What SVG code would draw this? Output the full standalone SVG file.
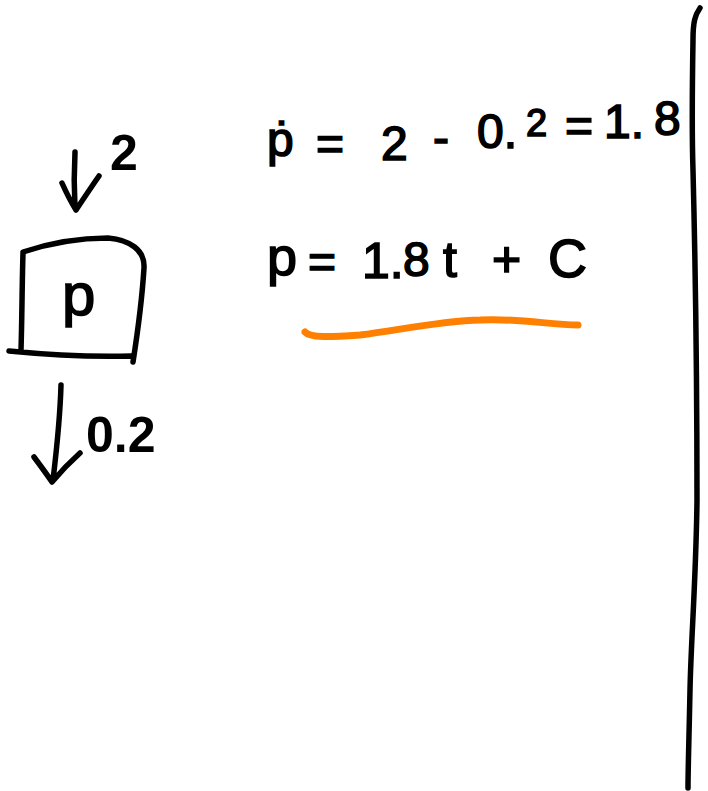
<svg xmlns="http://www.w3.org/2000/svg" width="708" height="791" viewBox="0 0 708 791">
  <style>
    .ink { fill: none; stroke: #000; stroke-width: 5.5; stroke-linecap: round; stroke-linejoin: round; }
    .hl { fill: none; stroke: #ff8000; stroke-width: 7; stroke-linecap: round; stroke-linejoin: round; }
    .t { font-family: "Liberation Sans", "DejaVu Sans", sans-serif; fill: #000; }
    .eq { font-size: 48px; stroke: #000; stroke-width: 1.6px; }
    .lbl { font-weight: bold; }
  </style>
  <rect width="708" height="791" fill="#fff"/>

  <!-- stock node P -->
  <g id="node-p">
    <path class="ink" d="M23 253 C22 285 22 320 21 350 M23 252 C50 243 80 238 108 238 C130 240 145 250 144 268 C142 300 138 330 133 362 M9 351 C50 355 95 357 131 356"/>
    <text class="t" x="62" y="315" font-size="60" stroke="#000" stroke-width="1.6">p</text>
  </g>

  <!-- inflow and outflow arrows -->
  <g id="connectors">
    <path class="ink" d="M75 152 C74 170 74 190 75 208 M62 183 C66 192 71 202 76 210 C84 198 92 186 99 176"/>
    <path class="ink" d="M61 385 C60 420 56 455 53 480 M34 457 C40 465 46 473 52 482 C62 470 70 462 80 453"/>
  </g>

  <g id="flow-labels">
    <text class="t lbl" x="110" y="170" font-size="50">2</text>
    <text class="t lbl" x="86" y="452" font-size="50">0.2</text>
  </g>

  <!-- rate equation -->
  <g id="eq-rate" class="t eq">
    <text x="267" y="156">ṗ</text>
    <text x="316" y="160">=</text>
    <text x="381" y="160">2</text>
    <text x="433" y="154">-</text>
    <text x="477" y="148">0.</text>
    <text x="526" y="136" font-size="38">2</text>
    <text x="565" y="142">=</text>
    <text x="604" y="138">1.</text>
    <text x="654" y="135">8</text>
  </g>

  <!-- solution equation -->
  <g id="eq-solution" class="t eq">
    <text x="267" y="275" font-size="54">p</text>
    <text x="308" y="278">=</text>
    <text x="362" y="278" font-size="50">1.</text>
    <text x="403" y="276" font-size="48">8</text>
    <text x="443" y="277" font-size="50">t</text>
    <text x="492" y="276" font-size="50">+</text>
    <text x="548" y="277" font-size="54">C</text>
  </g>

  <!-- highlight under the solution -->
  <g id="underline">
    <path class="hl" d="M305 332 C310 338 330 337 360 335 C400 330 440 321 480 320 C520 318 550 325 578 325"/>
  </g>

  <!-- divider on the right -->
  <g id="divider">
    <path class="ink" d="M700 8 C695 15 693 22 693 40 C692 100 692 140 693 170 C695 250 697 400 697 500 C696 580 691 640 690 690 C689 740 688 770 688 788"/>
  </g>
</svg>
